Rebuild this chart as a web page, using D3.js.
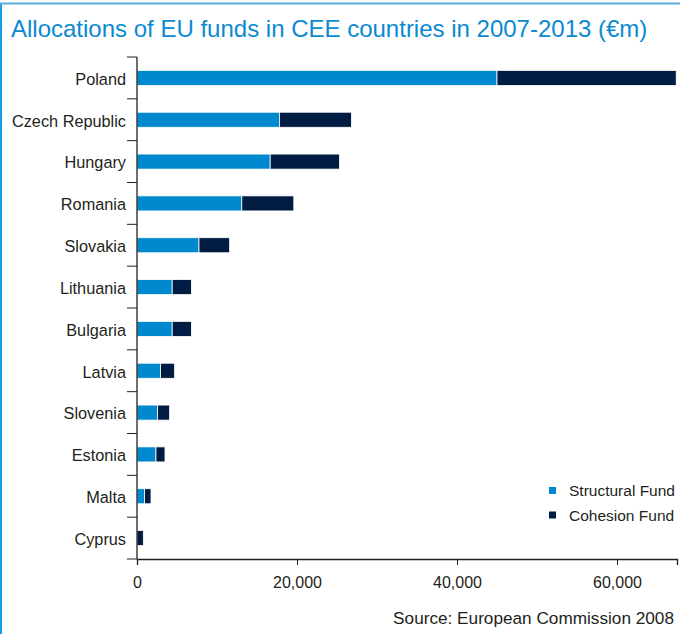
<!DOCTYPE html>
<html>
<head>
<meta charset="utf-8">
<script src="https://cdn.jsdelivr.net/npm/d3@7/dist/d3.min.js"></script>
<style>
  html, body { margin: 0; padding: 0; background: #fff; }
  svg { display: block; font-family: "Liberation Sans", Arial, Helvetica, sans-serif; }
</style>
</head>
<body>
<svg id="chart" width="680" height="634"></svg>
<script>
// EU fund allocations 2007-2013, € million
const countries = ["Poland", "Czech Republic", "Hungary", "Romania", "Slovakia", "Lithuania",
                   "Bulgaria", "Latvia", "Slovenia", "Estonia", "Malta", "Cyprus"];
const structuralFund = [45000, 17800, 16650, 13100, 7750, 4400, 4400, 2950, 2580, 2370, 950, 0];
const cohesionFund   = [22400, 9000, 8650, 6500, 3830, 2400, 2400, 1750, 1500, 1130, 800, 790];
const seriesNames = ["Structural Fund", "Cohesion Fund"];
const seriesColors = ["#0089cf", "#001c42"];
const xTicks = [0, 20000, 40000, 60000];
const xMax = 67500;

const svg = d3.select("#chart");
const textColor = "#231f20";

// Frame: blue rule along the left edge and across the top
svg.append("line").attr("x1", 1).attr("x2", 1).attr("y1", 3).attr("y2", 634)
  .attr("stroke", "#1c9ce2").attr("stroke-width", 2);
svg.append("line").attr("x1", 0).attr("x2", 680).attr("y1", 3.5).attr("y2", 3.5)
  .attr("stroke", "#5aaede").attr("stroke-width", 2);

// Title
svg.append("text")
  .attr("x", 11).attr("y", 37)
  .attr("fill", "#0a8ad0")
  .attr("font-size", 24)
  .text("Allocations of EU funds in CEE countries in 2007-2013 (€m)");

const plot = { left: 137, right: 677, top: 57, bottom: 559 };

const x = d3.scaleLinear().domain([0, xMax]).range([plot.left, plot.right]);
const y = d3.scaleBand().domain(countries).range([plot.top, plot.bottom]).padding(0);
const barH = y.bandwidth() * 0.36;

// Stack the two funds per country
const rows = countries.map((c, i) => ({ country: c, s: structuralFund[i], c: cohesionFund[i] }));
const stack = d3.stack().keys(["s", "c"])(rows);

svg.append("g").selectAll("g")
  .data(stack)
  .join("g")
  .attr("fill", (d, i) => seriesColors[i])
  .selectAll("rect")
  .data(d => d)
  .join("rect")
  .attr("x", d => x(d[0]))
  .attr("width", d => Math.max(0, x(d[1]) - x(d[0])))
  .attr("y", d => y(d.data.country) + (y.bandwidth() - barH) / 2)
  .attr("height", barH)
  .attr("stroke", "#fff")
  .attr("stroke-width", d => (d[1] - d[0]) > 0 ? 0.8 : 0);

// X axis
const xAxis = svg.append("g")
  .attr("transform", `translate(0,${plot.bottom})`)
  .call(d3.axisBottom(x).tickValues(xTicks).tickFormat(d3.format(",")).tickSize(6).tickSizeOuter(6).tickPadding(12));
xAxis.select(".domain").attr("stroke", textColor).attr("stroke-width", 1.3);
xAxis.selectAll(".tick line").attr("stroke", textColor);
xAxis.selectAll(".tick text").attr("fill", textColor).attr("font-size", 16)
  .attr("font-family", "'Liberation Sans', Arial, sans-serif");

// Y axis: line with ticks at the band boundaries, labels centred in each band
const yAxis = svg.append("g");
yAxis.append("line")
  .attr("x1", plot.left).attr("x2", plot.left)
  .attr("y1", plot.top).attr("y2", plot.bottom)
  .attr("stroke", textColor).attr("stroke-width", 1.3);
const boundaries = countries.map(c => y(c)).concat([y.range()[1]]);
yAxis.selectAll("line.tick")
  .data(boundaries)
  .join("line")
  .attr("class", "tick")
  .attr("x1", plot.left - 10).attr("x2", plot.left)
  .attr("y1", d => d).attr("y2", d => d)
  .attr("stroke", textColor).attr("stroke-width", 1);
yAxis.selectAll("text")
  .data(countries)
  .join("text")
  .attr("x", plot.left - 11)
  .attr("y", d => y(d) + y.bandwidth() / 2)
  .attr("dy", "0.42em")
  .attr("text-anchor", "end")
  .attr("fill", textColor)
  .attr("font-size", 16.3)
  .text(d => d);

// Legend
const legend = svg.append("g").attr("transform", "translate(549,487)");
seriesNames.forEach((name, i) => {
  const g = legend.append("g").attr("transform", `translate(0,${i * 24.5})`);
  g.append("rect").attr("width", 7).attr("height", 7).attr("fill", seriesColors[i]);
  g.append("text").attr("x", 20).attr("y", 3.5).attr("dy", "0.36em")
    .attr("fill", textColor).attr("font-size", 15.5).text(name);
});

// Source note
svg.append("text")
  .attr("x", 674).attr("y", 624)
  .attr("text-anchor", "end")
  .attr("fill", textColor)
  .attr("font-size", 17.2)
  .text("Source: European Commission 2008");
</script>
</body>
</html>
